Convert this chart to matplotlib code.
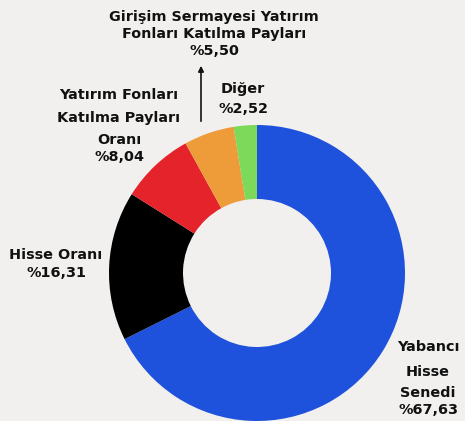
import matplotlib
matplotlib.use("Agg")
import matplotlib.pyplot as plt

# Portfolio breakdown (percent)
labels = [
    "Yabancı Hisse Senedi",
    "Hisse Oranı",
    "Yatırım Fonları Katılma Payları Oranı",
    "Girişim Sermayesi Yatırım Fonları Katılma Payları",
    "Diğer",
]
values = [67.63, 16.31, 8.04, 5.50, 2.52]
colors = ["#1f52dc", "#000000", "#e5232a", "#ee9b3a", "#7dd95a"]

bg = "#f1f0ee"
plt.rcParams["font.family"] = ["DejaVu Sans"]

fig = plt.figure(figsize=(4.65, 4.21), dpi=100, facecolor=bg)
ax = fig.add_axes([0, 0, 1, 1])
ax.set_facecolor(bg)

# donut, drawn in pixel-like units so labels can sit at fixed spots
ax.pie(values, colors=colors, startangle=90, counterclock=False,
       center=(257, 148), radius=148,
       wedgeprops=dict(width=74, linewidth=0))
ax.set_xlim(0, 465)
ax.set_ylim(0, 421)
ax.set_aspect("equal")
ax.axis("off")


def pct(v):
    return "%" + f"{v:.2f}".replace(".", ",")


txt = dict(ha="center", va="center", fontsize=10.4, fontweight="bold",
           color="#111111")


def lines(x, ys, parts):
    # one text per line, ys measured from the top edge
    for y, s in zip(ys, parts):
        ax.text(x, 421 - y, s, **txt)


lines(214, [17, 34, 51], ["Girişim Sermayesi Yatırım",
                          "Fonları Katılma Payları", pct(values[3])])
ax.annotate("", xy=(201, 421 - 63), xytext=(201, 421 - 124),
            arrowprops=dict(arrowstyle="-|>", color="#111111", lw=1.2,
                            mutation_scale=8))

lines(243, [89, 109], ["Diğer", pct(values[4])])
lines(119, [95, 118, 140, 157], ["Yatırım Fonları", "Katılma Payları",
                                 "Oranı", pct(values[2])])
lines(56, [255, 273], ["Hisse Oranı", pct(values[1])])
lines(428, [347, 372, 393, 410], ["Yabancı", "Hisse", "Senedi",
                                  pct(values[0])])

fig.savefig("out.png", dpi=100, facecolor=bg)
